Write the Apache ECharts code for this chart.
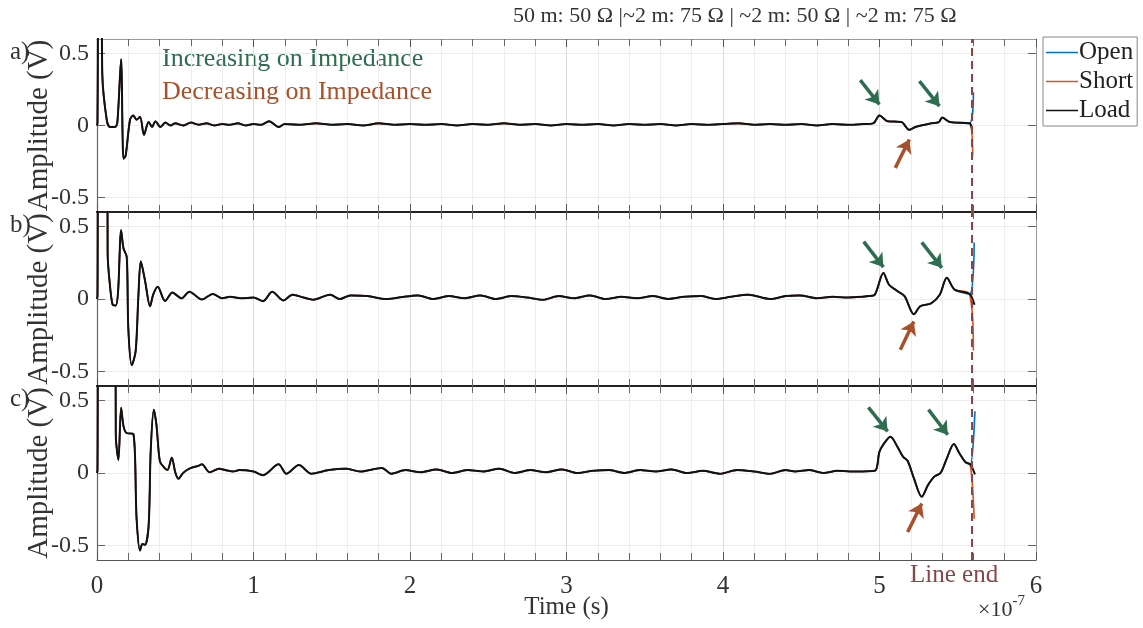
<!DOCTYPE html>
<html><head><meta charset="utf-8">
<script src="https://cdn.jsdelivr.net/npm/echarts@6/dist/echarts.min.js"></script>
<style>html,body{margin:0;padding:0;background:#fff}#c{width:1143px;height:628px}</style>
</head><body><div id="c"></div>
<script>
// ---- DATA (time in units of 1e-7 s, amplitude in V) ----
const xTickLabels = [0, 1, 2, 3, 4, 5, 6];
const yTickLabels = [-0.5, 0, 0.5];
const seriesNames = ['Open', 'Short', 'Load'];
const panelLetters = ['a)', 'b)', 'c)'];
const lineEndT = 5.59;

// Panel a (Load; Open/Short follow it until the line end)
const tA = [0,0.003,0.012,0.028,0.034,0.062,0.083,0.115,0.13,0.154,0.169,0.183,0.211,0.232,0.253,0.275,0.30,0.33,0.352,0.373,0.405,0.437,0.47,0.5,0.55,0.6,0.65,0.7,0.75,0.8,0.85,0.9,0.95,1.0,1.05,1.1,1.16,1.2,1.3,1.4,1.5,1.6,1.7,1.8,1.9,2.0,2.1,2.2,2.3,2.4,2.5,2.6,2.7,2.8,2.9,3.0,3.1,3.2,3.3,3.4,3.5,3.6,3.7,3.8,3.9,4.0,4.1,4.2,4.3,4.4,4.5,4.6,4.7,4.8,4.9,4.96,5.0,5.05,5.14,5.19,5.23,5.33,5.38,5.40,5.45,5.575,5.59];
const loadA = [0,0.02,1.2,1.2,0.35,0.04,-0.01,-0.01,0.02,0.46,-0.23,-0.21,0.04,0.07,0.04,0.06,-0.065,0.025,-0.01,0.03,-0.01,0.02,0.0,0.015,0.0,0.02,0.005,0.015,0.0,0.01,0.005,0.015,0.0,0.01,0.005,0.03,-0.01,0.01,0.005,0.015,0.005,0.01,0.0,0.015,0.005,0.01,0.005,0.01,0.0,0.01,0.005,0.015,0.005,0.01,0.0,0.01,0.005,0.01,0.0,0.01,0.005,0.01,0.0,0.01,0.005,0.01,0.015,0.005,0.01,0.005,0.01,0.0,0.01,0.005,0.01,0.015,0.07,0.03,0.024,-0.03,-0.01,0.015,0.024,0.055,0.024,0.015,-0.017];

// Panel b
const tB = [0,0.003,0.01,0.066,0.068,0.08,0.1,0.12,0.135,0.154,0.169,0.19,0.2,0.222,0.247,0.264,0.28,0.307,0.339,0.36,0.388,0.435,0.482,0.54,0.59,0.67,0.74,0.8,0.85,0.92,1.0,1.06,1.12,1.19,1.25,1.32,1.38,1.49,1.55,1.62,1.73,1.85,1.94,2.05,2.15,2.25,2.35,2.45,2.55,2.65,2.75,2.85,2.95,3.05,3.15,3.25,3.35,3.45,3.55,3.65,3.75,3.86,3.95,4.05,4.16,4.3,4.4,4.49,4.6,4.7,4.8,4.93,4.97,5.025,5.06,5.115,5.16,5.22,5.26,5.33,5.385,5.43,5.48,5.575,5.607];
const loadB = [0,0.02,1.2,1.2,0.31,0.125,-0.04,-0.045,0.056,0.475,0.35,0.29,-0.2,-0.457,-0.36,0.01,0.26,0.126,-0.05,0.033,0.084,-0.014,0.044,0.005,0.05,-0.003,0.035,0.005,0.015,0.005,0.01,-0.015,0.05,-0.01,0.03,0.01,-0.005,0.03,0.0,0.025,0.02,0.0,0.012,0.025,0.0,0.02,0.005,0.025,0.0,0.02,0.01,-0.005,0.02,0.005,0.025,0.0,0.015,0.005,0.02,0.0,0.015,0.02,0.0,0.015,0.03,0.0,0.02,0.025,0.005,0.015,0.01,0.02,0.03,0.18,0.1,0.054,0.02,-0.105,-0.05,-0.03,0.03,0.147,0.065,0.035,-0.04];

// Panel c
const tC = [0,0.003,0.01,0.118,0.12,0.137,0.154,0.17,0.19,0.232,0.253,0.275,0.29,0.307,0.33,0.343,0.363,0.38,0.402,0.43,0.45,0.478,0.50,0.52,0.55,0.59,0.648,0.67,0.72,0.78,0.82,0.87,0.91,1.0,1.06,1.16,1.21,1.29,1.37,1.48,1.59,1.68,1.82,1.88,1.97,2.07,2.17,2.27,2.37,2.47,2.57,2.67,2.77,2.87,2.97,3.07,3.17,3.27,3.37,3.47,3.57,3.67,3.77,3.87,3.98,4.09,4.2,4.3,4.4,4.46,4.55,4.64,4.73,4.85,4.97,5.0,5.04,5.07,5.115,5.15,5.18,5.22,5.27,5.31,5.35,5.39,5.43,5.475,5.51,5.55,5.58,5.61];
const loadC = [0,0.02,1.2,1.2,0.26,0.09,0.45,0.32,0.275,0.27,-0.315,-0.535,-0.49,-0.495,-0.36,0.148,0.437,0.33,0.08,0.037,0.02,0.106,0.005,-0.04,0.0,0.03,0.05,0.06,0.005,0.03,0.02,0.01,0.02,0.01,-0.015,0.06,-0.005,0.055,-0.005,0.02,0.03,0.01,0.035,-0.005,0.02,0.005,0.025,0.0,0.02,0.01,0.03,0.0,0.02,0.005,0.025,0.0,0.015,0.02,0.0,0.02,0.01,0.025,0.0,0.015,-0.005,0.02,0.01,-0.005,0.02,0.01,0.02,0.0,0.015,0.01,0.015,0.148,0.22,0.25,0.18,0.113,0.083,-0.037,-0.164,-0.083,-0.025,0.0,0.1,0.2,0.137,0.074,0.06,-0.01];

// End-of-line reflections (Open goes up, Short goes down)
const openEndT = [5.60, 5.605, 5.61];
const openEndV = [0.23, 0.39, 0.426];
const shortEndT = [5.595, 5.60, 5.605];
const shortEndV = [-0.21, -0.355, -0.315];

// Annotation arrows: [t0, v0, t1, v1] (tail -> tip), per panel
const upArrowsA = [[4.877, 0.315, 4.999, 0.146], [5.255, 0.308, 5.383, 0.134]];
const downArrowA = [5.101, -0.294, 5.191, -0.097];
const upArrowsB = [[4.899, 0.396, 5.025, 0.22], [5.27, 0.39, 5.398, 0.215]];
const downArrowB = [5.133, -0.35, 5.219, -0.155];
const upArrowsC = [[4.929, 0.453, 5.052, 0.287], [5.313, 0.4375, 5.436, 0.264]];
const downArrowC = [5.18, -0.407, 5.27, -0.21];

// ---- BUILD ----
const FONT = "'Liberation Serif', 'DejaVu Serif', serif";
const COL_OPEN = '#0072BD', COL_SHORT = '#D95319', COL_LOAD = '#111111';
const COL_GREEN = '#2f6d50', COL_RED = '#a8502a', COL_END = '#84474a';

const panels = [
  {t: tA, v: loadA, up: upArrowsA, down: downArrowA},
  {t: tB, v: loadB, up: upArrowsB, down: downArrowB},
  {t: tC, v: loadC, up: upArrowsC, down: downArrowC}
];
const gridTops = [39, 212, 386];
const gridH = [173, 174, 174];

const grid = [], xAxis = [], yAxis = [], series = [];
function arrow(a, color) {
  return [
    {coord: [a[0], a[1]], symbol: 'none', lineStyle: {color: color, width: 3.5, type: 'solid'}, itemStyle: {color: color}},
    {coord: [a[2], a[3]], symbol: 'arrow', itemStyle: {color: color}}
  ];
}
panels.forEach((p, i) => {
  grid.push({left: 97, top: gridTops[i], width: 939, height: gridH[i], containLabel: false});
  const isLast = i === 2;
  xAxis.push({
    type: 'value', gridIndex: i, min: 0, max: 6, interval: 1, position: 'bottom',
    axisLine: {onZero: false, lineStyle: {color: isLast ? '#555' : '#222', width: isLast ? 1.2 : 1.8}},
    axisTick: {inside: true, length: 8, lineStyle: {color: '#555'}},
    minorTick: {show: true, splitNumber: 5, length: 7, lineStyle: {color: '#666'}},
    splitLine: {show: true, lineStyle: {color: '#dcdcdc', width: 1}},
    minorSplitLine: {show: true, lineStyle: {color: '#eeeeee', width: 1}},
    axisLabel: {show: isLast, customValues: xTickLabels, fontFamily: FONT, fontSize: 25, color: '#333', margin: 14},
    name: isLast ? 'Time (s)' : '', nameLocation: 'middle', nameGap: 35, nameMoveOverlap: false,
    nameTextStyle: {fontFamily: FONT, fontSize: 25, color: '#333'}
  });
  xAxis.push({
    type: 'value', gridIndex: i, min: 0, max: 6, interval: 1, position: 'top',
    axisLine: {onZero: false, lineStyle: {color: i === 0 ? '#9a9a9a' : '#222', width: i === 0 ? 1 : 1.8}},
    axisTick: {inside: true, length: 8, lineStyle: {color: '#555'}},
    minorTick: {show: true, splitNumber: 5, length: 7, lineStyle: {color: '#666'}},
    splitLine: {show: false}, axisLabel: {show: false}
  });
  yAxis.push({
    type: 'value', gridIndex: i, min: -0.6, max: 0.6, interval: 0.1, position: 'left',
    axisLine: {show: true, onZero: false, lineStyle: {color: '#666', width: 1.2}},
    axisTick: {show: true, inside: true, length: 8, customValues: yTickLabels, lineStyle: {color: '#666'}},
    axisLabel: {customValues: yTickLabels, fontFamily: FONT, fontSize: 24, color: '#333', margin: 8,
      formatter: v => (Math.abs(v) < 1e-9 ? '0' : String(v))},
    splitLine: {show: true, lineStyle: {color: '#ececec', width: 1}},
    name: 'Amplitude (V)', nameLocation: 'middle', nameGap: 43, nameRotate: 90, nameMoveOverlap: false,
    nameTextStyle: {fontFamily: FONT, fontSize: 29, color: '#333'}
  });
  yAxis.push({
    type: 'value', gridIndex: i, min: -0.6, max: 0.6, interval: 0.1, position: 'right',
    axisLine: {show: true, onZero: false, lineStyle: {color: '#999', width: 1}},
    axisTick: {show: true, inside: true, length: 8, customValues: yTickLabels, lineStyle: {color: '#666'}},
    axisLabel: {show: false}, splitLine: {show: false}
  });
  const xi = i * 2, yi = i * 2;
  const n = p.t.length;
  const common = p.t.slice(0, n - 1).map((t, k) => [t, p.v[k]]);
  const load = p.t.map((t, k) => [t, p.v[k]]);
  const open = common.concat([[openEndT[i], openEndV[i]]]);
  const short = common.concat([[shortEndT[i], shortEndV[i]]]);
  const base = {type: 'line', xAxisIndex: xi, yAxisIndex: yi, showSymbol: false, symbol: 'none',
    animation: false, clip: true, smooth: 0.3};
  series.push(Object.assign({}, base, {name: 'Open', data: open, lineStyle: {color: COL_OPEN, width: 1.6}, itemStyle: {color: COL_OPEN}, z: 2}));
  series.push(Object.assign({}, base, {name: 'Short', data: short, lineStyle: {color: COL_SHORT, width: 1.6}, itemStyle: {color: COL_SHORT}, z: 3}));
  series.push(Object.assign({}, base, {name: 'Load', data: load, lineStyle: {color: COL_LOAD, width: 2}, itemStyle: {color: COL_LOAD}, z: 4,
    markLine: {
      silent: true, animation: false, symbol: ['none', 'none'], symbolSize: 13, label: {show: false},
      data: [
        {xAxis: lineEndT, lineStyle: {color: COL_END, width: 2, type: [8, 5]}},
        arrow(p.up[0], COL_GREEN),
        arrow(p.up[1], COL_GREEN),
        arrow(p.down, COL_RED)
      ]
    }
  }));
});

const graphic = [
  {type: 'text', left: 513, top: 5, style: {text: '50 m: 50 \u03A9 |~2 m: 75 \u03A9 | ~2 m: 50 \u03A9 | ~2 m: 75 \u03A9', font: '22px ' + FONT, fill: '#333'}},
  {type: 'text', left: 162, top: 46, style: {text: 'Increasing on Impedance', font: '26px ' + FONT, fill: COL_GREEN}},
  {type: 'text', left: 162, top: 79, style: {text: 'Decreasing on Impedance', font: '26px ' + FONT, fill: COL_RED}},
  {type: 'text', left: 910, top: 563, style: {text: 'Line end', font: '25px ' + FONT, fill: COL_END}},
  {type: 'text', left: 978, top: 594, style: {text: '{a|\u00D710}{b|-7}', rich: {a: {font: '22px ' + FONT, fill: '#333', verticalAlign: 'bottom'}, b: {font: '15px ' + FONT, fill: '#333', verticalAlign: 'top', padding: [0,0,12,0]}}}}
];
panelLetters.forEach((s, i) => {
  graphic.push({type: 'text', left: 10, top: gridTops[i] + 1, style: {text: s, font: '25px ' + FONT, fill: '#333'}});
});

const chart = echarts.init(document.getElementById('c'), null, {renderer: 'canvas'});
chart.setOption({
  animation: false,
  backgroundColor: '#fff',
  grid, xAxis, yAxis, series, graphic,
  legend: {
    data: seriesNames, orient: 'vertical', left: 1043, top: 37, itemGap: 4,
    icon: 'rect', itemWidth: 32, itemHeight: 1.5, padding: [3, 4, 3, 3],
    borderColor: '#888', borderWidth: 1, backgroundColor: '#fff',
    textStyle: {fontFamily: FONT, fontSize: 25, color: '#222', padding: [0, 0, 0, -4]}
  }
});
</script></body></html>
